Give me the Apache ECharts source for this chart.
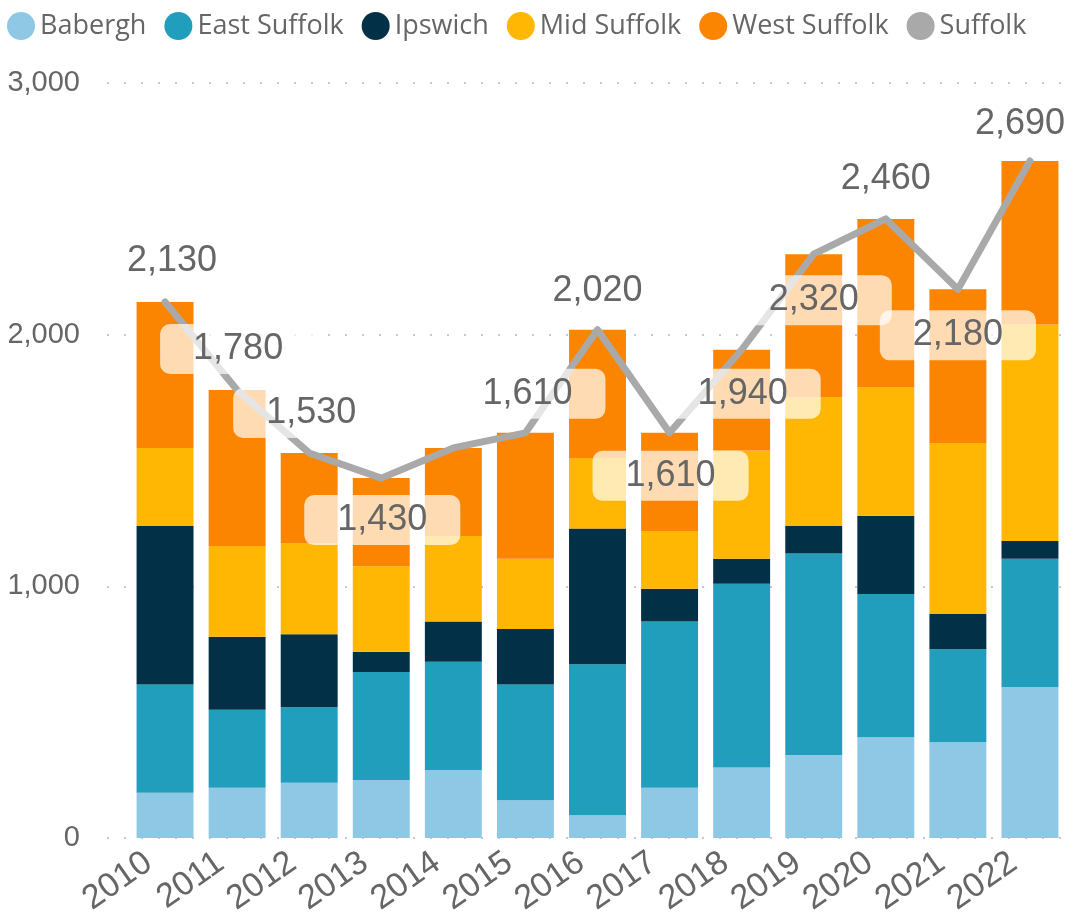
<!DOCTYPE html>
<html>
<head>
<meta charset="utf-8">
<title>Suffolk</title>
<script src="https://cdn.jsdelivr.net/npm/echarts@6/dist/echarts.min.js"></script>
<style>
  html, body { margin: 0; padding: 0; background: #fff; }
  #chart { width: 1073px; height: 920px; }
</style>
</head>
<body>
<div id="chart"></div>
<script>
// data
var years = ['2010', '2011', '2012', '2013', '2014', '2015', '2016', '2017', '2018', '2019', '2020', '2021', '2022'];
var babergh = [180, 200, 220, 230, 270, 150, 90, 200, 280, 330, 400, 380, 600];
var eastSuffolk = [430, 310, 300, 430, 430, 460, 600, 660, 730, 800, 570, 370, 510];
var ipswich = [630, 290, 290, 80, 160, 220, 540, 130, 100, 110, 310, 140, 70];
var midSuffolk = [310, 360, 360, 340, 340, 280, 280, 230, 430, 510, 510, 680, 860];
var westSuffolk = [580, 620, 360, 350, 350, 500, 510, 390, 400, 570, 670, 610, 650];
var suffolk = [2130, 1780, 1530, 1430, 1550, 1610, 2020, 1610, 1940, 2320, 2460, 2180, 2690];

// where each Suffolk label sits relative to its point (null = no label)
var labelOffsets = [[7, -41], [1, -41], [2, -40], [1, 42], null, [2, -39], [0, -39],
  [1, 43], [1, 44], [0, 46], [0, -40], [0, 46], [-10, -37]];

var colors = ['#8FC8E5', '#219EBC', '#023047', '#FFB703', '#FB8500', '#A9A9A9'];
var textColor = '#666666';
var numFont = '"Liberation Sans", Arial, sans-serif';

function fmt(v) {
  return Number(v).toLocaleString('en-US');
}

var chart = echarts.init(document.getElementById('chart'));

function barSeries(name, data) {
  return {
    name: name,
    type: 'bar',
    stack: 'total',
    xAxisIndex: 0,
    yAxisIndex: 0,
    barCategoryGap: '21%',
    data: data
  };
}

var lineData = suffolk.map(function (v, i) {
  var off = labelOffsets[i];
  if (!off) return { value: v, label: { show: false } };
  return { value: v, label: { offset: off } };
});

var option = {
  animation: false,
  color: colors,
  textStyle: { fontFamily: numFont },
  legend: {
    left: 2,
    top: 7,
    icon: 'circle',
    itemWidth: 28,
    itemHeight: 28,
    itemGap: 18,
    textStyle: { fontFamily: '"Open Sans", sans-serif', fontSize: 27, color: textColor },
    data: ['Babergh', 'East Suffolk', 'Ipswich', 'Mid Suffolk', 'West Suffolk', 'Suffolk']
  },
  grid: [
    { left: 129, right: 7, top: 83, bottom: 82 },
    { left: 107, right: 7, top: 83, bottom: 82 }
  ],
  xAxis: [
    {
      type: 'category',
      gridIndex: 0,
      data: years,
      axisLine: { show: false },
      axisTick: { show: false },
      axisLabel: {
        interval: 0,
        rotate: 35,
        margin: 10,
        fontSize: 34,
        color: textColor,
        fontFamily: numFont,
        padding: [0, 20, 0, 0]
      }
    },
    { type: 'value', gridIndex: 1, min: 0, max: 1, show: false }
  ],
  yAxis: [
    {
      type: 'value',
      gridIndex: 0,
      min: 0,
      max: 3000,
      interval: 1000,
      show: false
    },
    {
      type: 'value',
      gridIndex: 1,
      min: 0,
      max: 3000,
      interval: 1000,
      axisLine: { show: false },
      axisTick: { show: false },
      axisLabel: {
        margin: 27,
        fontSize: 29,
        color: textColor,
        fontFamily: numFont,
        formatter: fmt
      },
      splitLine: {
        lineStyle: { color: '#C8C8C8', width: 2, type: [2, 15] }
      }
    }
  ],
  series: [
    barSeries('Babergh', babergh),
    barSeries('East Suffolk', eastSuffolk),
    barSeries('Ipswich', ipswich),
    barSeries('Mid Suffolk', midSuffolk),
    barSeries('West Suffolk', westSuffolk),
    {
      name: 'Suffolk',
      type: 'line',
      xAxisIndex: 0,
      yAxisIndex: 0,
      symbol: 'circle',
      symbolSize: 0.1,
      showSymbol: true,
      z: 5,
      lineStyle: { color: '#A9A9A9', width: 7, cap: 'round', join: 'round' },
      itemStyle: { color: '#A9A9A9' },
      label: {
        show: true,
        position: 'inside',
        fontSize: 36,
        fontFamily: numFont,
        color: textColor,
        backgroundColor: 'rgba(255,255,255,0.7)',
        borderRadius: 10,
        padding: [7, 33],
        formatter: function (p) { return fmt(p.value); }
      },
      data: lineData
    }
  ]
};

chart.setOption(option);
</script>
</body>
</html>
